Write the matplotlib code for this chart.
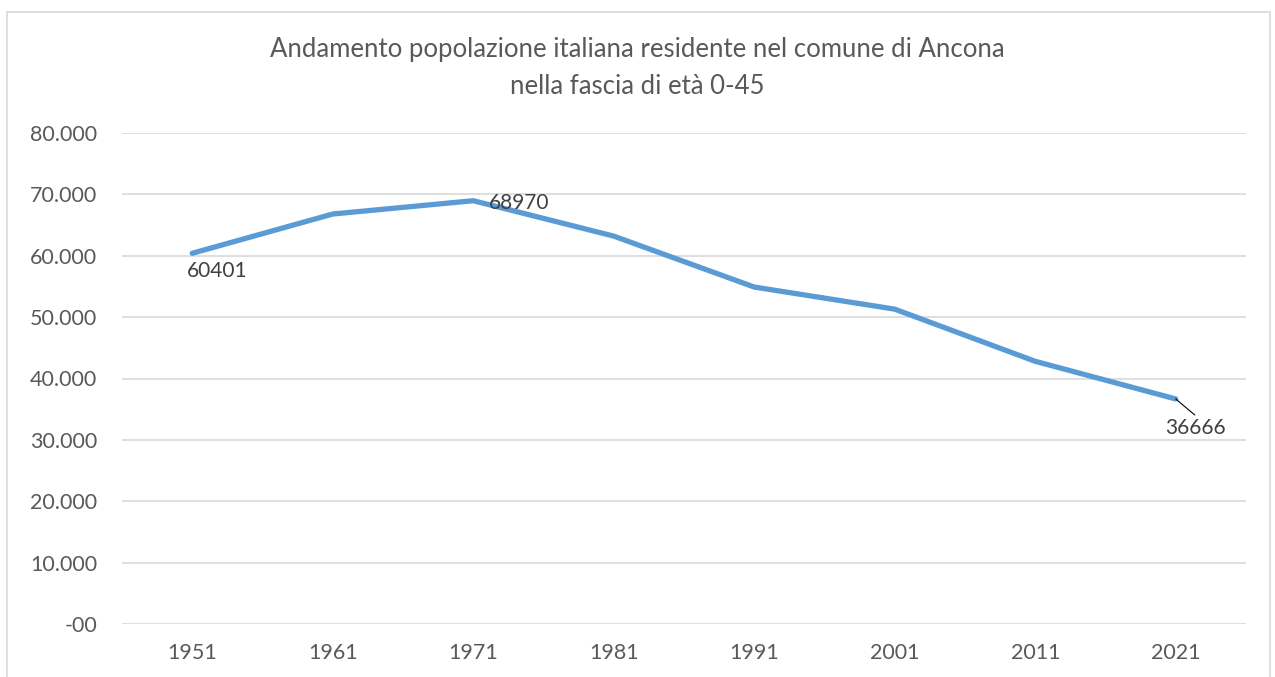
import matplotlib.pyplot as plt
from matplotlib.patches import Rectangle

anni = ["1951", "1961", "1971", "1981", "1991", "2001", "2011", "2021"]
popolazione = [60401, 66800, 68970, 63200, 54900, 51300, 42800, 36666]
y_ticks = [0, 10000, 20000, 30000, 40000, 50000, 60000, 70000, 80000]
y_labels = ["-00", "10.000", "20.000", "30.000", "40.000", "50.000", "60.000", "70.000", "80.000"]

plt.rcParams['font.family'] = ['Lato', 'DejaVu Sans']
grigio = '#595959'

fig = plt.figure(figsize=(12.75, 6.77), dpi=100)
fig.patches.append(Rectangle((7 / 1275, -0.05), 1263 / 1275, 1.05 - 12 / 677,
                             transform=fig.transFigure, fill=False,
                             edgecolor='#D9D9D9', linewidth=1.2))

ax = fig.add_axes([122 / 1275, 53 / 677, 1124 / 1275, 491 / 677])
x = list(range(len(anni)))
ax.plot(x, popolazione, color='#5B9BD5', linewidth=3.8, solid_capstyle='round',
        solid_joinstyle='round', zorder=3)

ax.set_xlim(-0.5, len(anni) - 0.5)
ax.set_ylim(0, 80000)
ax.set_yticks(y_ticks)
ax.set_yticklabels(y_labels)
ax.set_xticks(x)
ax.set_xticklabels(anni)
ax.tick_params(length=0, labelsize=15.5, colors=grigio)
ax.tick_params(axis='y', pad=18)
ax.tick_params(axis='x', pad=14)
ax.grid(axis='y', color='#D9D9D9', linewidth=1.2)
ax.set_axisbelow(True)
for s in ax.spines.values():
    s.set_visible(False)

# etichette dati
ax.annotate(str(popolazione[0]), (x[0], popolazione[0]), xytext=(-5, -8),
            textcoords='offset pixels', ha='left', va='top', fontsize=15, color='#404040')
ax.annotate(str(popolazione[2]), (x[2], popolazione[2]), xytext=(16, -2),
            textcoords='offset pixels', ha='left', va='center', fontsize=15, color='#404040')
ax.annotate(str(popolazione[-1]), (x[-1], popolazione[-1]), xytext=(-11, -19),
            textcoords='offset pixels', ha='left', va='top', fontsize=15, color='#404040')
ax.annotate('', (x[-1], popolazione[-1]), xytext=(19, -16), textcoords='offset pixels',
            arrowprops=dict(arrowstyle='-', color='black', linewidth=0.8,
                            shrinkA=0, shrinkB=0))

fig.text(0.5, 1 - 50 / 677, "Andamento popolazione italiana residente nel comune di Ancona",
         ha='center', va='center', fontsize=18.5, color=grigio)
fig.text(0.5, 1 - 87 / 677, "nella fascia di età 0-45",
         ha='center', va='center', fontsize=18.5, color=grigio)

fig.savefig('out.png', dpi=100)
